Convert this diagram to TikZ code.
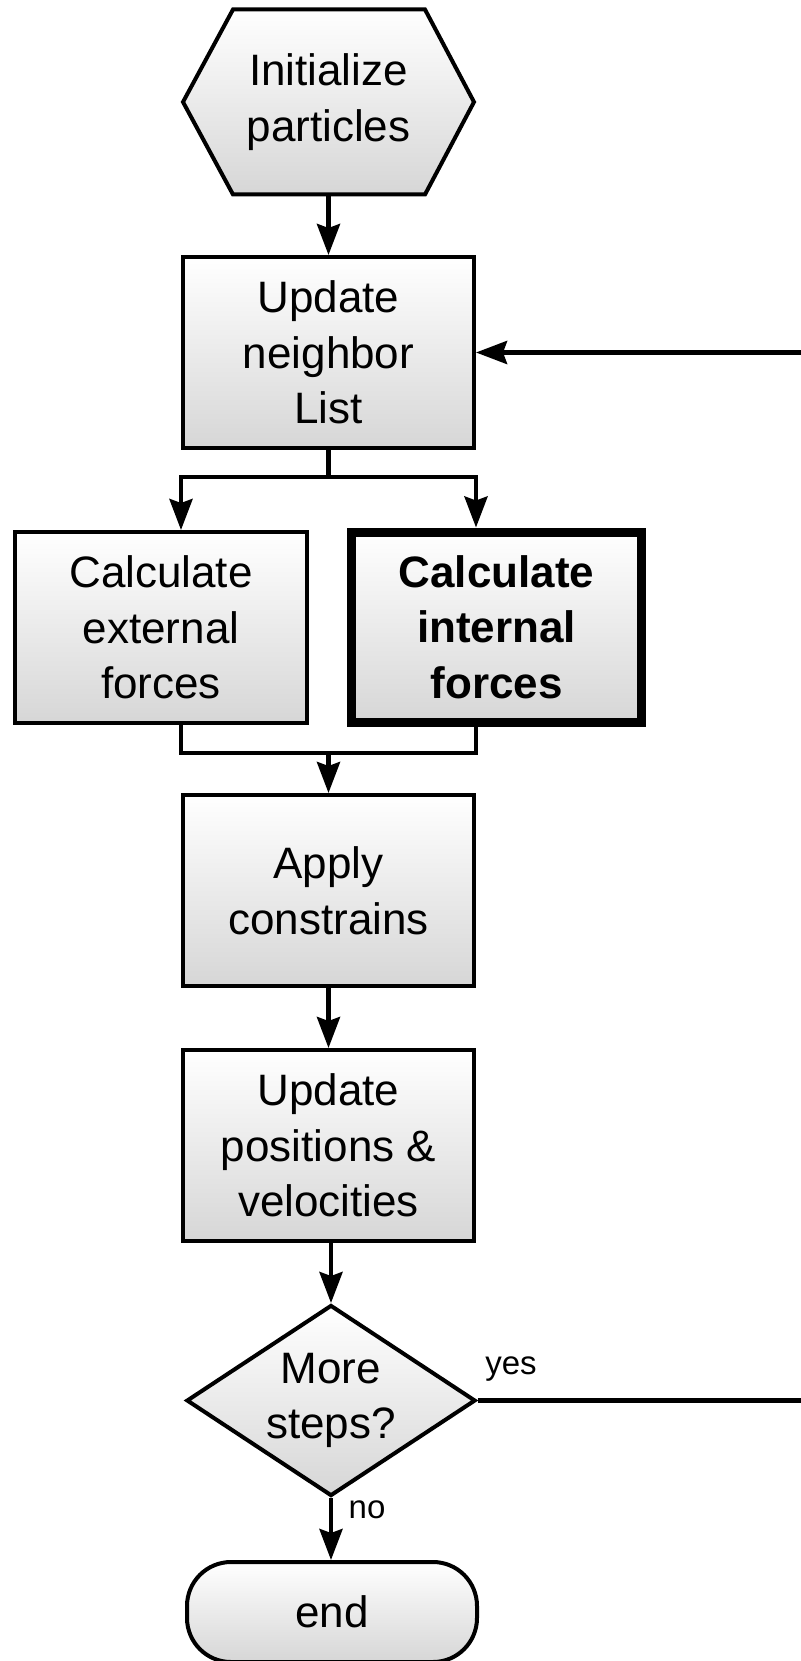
\documentclass[tikz,border=0pt]{standalone}
\usepackage{fontspec}
\setmainfont{Liberation Sans}
\usetikzlibrary{arrows.meta,shapes.geometric}
\newcommand\bigfs{\fontsize{44}{55.7}\selectfont}
\newcommand\smallfs{\fontsize{33}{38}\selectfont}
\tikzset{
  shadefill/.style={top color=white, bottom color=gray!32},
  stepbox/.style={draw, line width=4pt, shadefill, minimum width=291pt, minimum height=191pt,
     inner sep=0pt, align=center, font=\bigfs},
  boldbox/.style={stepbox, line width=9pt, minimum width=290pt, minimum height=190pt, font=\bigfs\bfseries},
  decbox/.style={draw, diamond, line width=4pt, shadefill, minimum width=289pt, minimum height=191pt,
     inner sep=0pt, aspect=1.513, align=center, font=\bigfs},
  endbox/.style={draw, rectangle, rounded corners=44pt, line width=4pt, shadefill, minimum width=290pt,
     minimum height=100pt, inner sep=0pt, font=\bigfs},
  txt/.style={align=center, font=\bigfs, inner sep=0pt},
  lbl/.style={font=\smallfs, inner sep=0pt},
  conn/.style={line width=4.5pt},
  arr/.style={-{Stealth[length=31pt,width=23pt,inset=4pt]}}
}
\begin{document}
\begin{tikzpicture}[x=1pt,y=-1pt]
\useasboundingbox (0,0) rectangle (800,1661);
% hexagon outline
\draw[line width=4pt, shadefill] (183,102) -- (233,9.5) -- (425,9.5) -- (474,102) -- (425,194.5) -- (233,194.5) -- cycle;
\node[txt, minimum width=291pt, minimum height=185pt] (init) at (328.5,102) {Initialize\\particles};
\node[stepbox] (nb) at (328.5,352.5) {Update\\neighbor\\List};
\node[stepbox, minimum width=292pt] (ext) at (161,627.5) {Calculate\\external\\forces};
\node[boldbox] (int) at (496.5,627) {Calculate\\internal\\forces};
\node[stepbox] (apply) at (328.5,890.5) {Apply\\constrains};
\node[stepbox] (upd) at (328.5,1145.5) {Update\\positions \&\\velocities};
\node[decbox] (dec) at (331,1400.5) {More\\steps?};
\node[endbox] (end) at (332,1612) {end};
\coordinate (sp) at (328.5,477);
\coordinate (mg) at (328.5,753);
% connectors
\draw[conn, arr] (init.south) -- (nb.north);
\draw[conn] (nb.south) -- (sp);
\draw[conn, arr] (sp) -| (ext.north -| nb.west);
\draw[conn, arr] (sp) -| (int.north -| nb.east);
\draw[conn] (ext.south -| nb.west) -- (mg -| nb.west) -- (mg -| nb.east) -- (int.south -| nb.east);
\draw[conn, arr] (mg) -- (apply.north);
\draw[conn, arr] (apply.south) -- (upd.north);
\draw[conn, arr] (upd.south -| dec.north) -- (dec.north);
\draw[conn, arr] (dec.south) -- (end.north -| dec.south);
\draw[conn, arr] (dec.east) -- ++(380,0) |- (nb.east);
\node[lbl] (yes) at (511,1369) {yes};
\node[lbl] (no) at (367,1510) {no};
\end{tikzpicture}
\end{document}
